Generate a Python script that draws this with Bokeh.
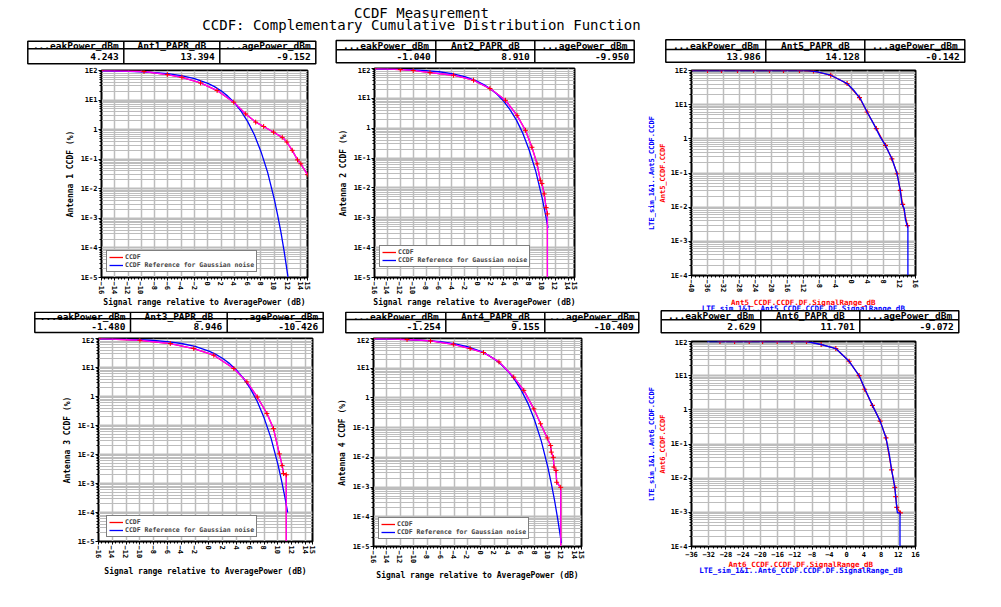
import math
from bokeh.plotting import figure
from bokeh.models import Range1d, FixedTicker, CustomJSTickFormatter, Title
from bokeh.layouts import column, row
from bokeh.embed import file_html
from bokeh.resources import INLINE
from bokeh.core.properties import value

# ---------------- data ----------------
title_lines = ["CCDF Measurement", "CCDF: Complementary Cumulative Distribution Function"]

hdr_p1 = ["...eakPower_dBm", "Ant1_PAPR_dB", "...agePower_dBm"]
val_p1 = ["4.243", "13.394", "-9.152"]
hdr_p2 = ["...eakPower_dBm", "Ant2_PAPR_dB", "...agePower_dBm"]
val_p2 = ["-1.040", "8.910", "-9.950"]
hdr_p3 = ["...eakPower_dBm", "Ant5_PAPR_dB", "...agePower_dBm"]
val_p3 = ["13.986", "14.128", "-0.142"]
hdr_p4 = ["...eakPower_dBm", "Ant3_PAPR_dB", "...agePower_dBm"]
val_p4 = ["-1.480", "8.946", "-10.426"]
hdr_p5 = ["...eakPower_dBm", "Ant4_PAPR_dB", "...agePower_dBm"]
val_p5 = ["-1.254", "9.155", "-10.409"]
hdr_p6 = ["...eakPower_dBm", "Ant6_PAPR_dB", "...agePower_dBm"]
val_p6 = ["2.629", "11.701", "-9.072"]

xlabel_std = "Signal range relative to AveragePower (dB)"
ylabel_p1 = "Antenna 1 CCDF (%)"
ylabel_p2 = "Antenna 2 CCDF (%)"
ylabel_p4 = "Antenna 3 CCDF (%)"
ylabel_p5 = "Antenna 4 CCDF (%)"
legend_meas = "CCDF"
legend_ref = "CCDF Reference for Gaussian noise"

ylab_red_p3 = "Ant5_CCDF.CCDF"
ylab_blue_p3 = "LTE_sim_1&1..Ant5_CCDF.CCDF"
xlab_red_p3 = "Ant5_CCDF.CCDF.DF.SignalRange_dB"
xlab_blue_p3 = "LTE_sim_1&1..Ant5_CCDF.CCDF.DF.SignalRange_dB"
ylab_red_p6 = "Ant6_CCDF.CCDF"
ylab_blue_p6 = "LTE_sim_1&1..Ant6_CCDF.CCDF"
xlab_red_p6 = "Ant6_CCDF.CCDF.DF.SignalRange_dB"
xlab_blue_p6 = "LTE_sim_1&1..Ant6_CCDF.CCDF.DF.SignalRange_dB"

# Gaussian reference curves (blue), read per panel
gx_p1 = [-16, -12, -10, -8, -6, -4, -2, 0, 1, 2, 3, 4, 5, 6, 7, 8, 9, 10, 10.5, 11, 11.5, 12, 12.1]
gy_p1 = [97.5, 93.9, 90.5, 85.4, 77.8, 67.2, 53.2, 36.8, 28.4, 20.5, 13.6, 8.1, 4.2, 1.87, 0.67, 0.18, 0.036, 4.5e-3, 1.3e-3, 3.4e-4, 7.3e-5, 1.3e-5, 9e-6]
gx_p2 = [-16, -12, -10, -8, -6, -4, -2, 0, 1, 2, 3, 4, 5, 6, 7, 8, 9, 10, 10.5, 10.9]
gy_p2 = [97.5, 93.9, 90.5, 85.4, 77.8, 67.2, 53.2, 36.8, 28.4, 20.5, 13.6, 8.1, 4.2, 1.87, 0.67, 0.18, 0.036, 4.5e-3, 1.3e-3, 4.6e-4]
gx_p4 = [-16, -12, -10, -8, -6, -4, -2, 0, 1, 2, 3, 4, 5, 6, 7, 8, 9, 10, 10.5, 11, 11.4]
gy_p4 = [97.5, 93.9, 90.5, 85.4, 77.8, 67.2, 53.2, 36.8, 28.4, 20.5, 13.6, 8.1, 4.2, 1.87, 0.67, 0.18, 0.036, 4.5e-3, 1.3e-3, 3.4e-4, 1.0e-4]
gx_p5 = [-16, -12, -10, -8, -6, -4, -2, 0, 1, 2, 3, 4, 5, 6, 7, 8, 9, 10, 10.5, 11, 11.5, 12]
gy_p5 = [97.5, 93.9, 90.5, 85.4, 77.8, 67.2, 53.2, 36.8, 28.4, 20.5, 13.6, 8.1, 4.2, 1.87, 0.67, 0.18, 0.036, 4.5e-3, 1.3e-3, 3.4e-4, 7.3e-5, 1.3e-5]

# Measured CCDF curves (red / magenta)
mx_p1 = [-16, -9.6, -6.1, -3.9, -1.1, 1.4, 3.9, 5.7, 7.2, 8.4, 9.9, 11.2, 11.9, 12.7, 13.5, 14.0, 15.0]
my_p1 = [100, 92.5, 73, 59, 38, 21, 8.5, 3.4, 1.8, 1.28, 0.82, 0.55, 0.38, 0.2, 0.095, 0.07, 0.03]
mx_p2 = [-16, -12, -10, -7.4, -3.75, -0.65, 1.9, 4.3, 6.1, 7.4, 8.4, 9.2, 9.7, 9.95, 10.3, 10.6, 10.8, 10.8]
my_p2 = [100, 92.5, 86, 73, 59.5, 40.5, 21.3, 8.6, 2.7, 0.85, 0.23, 0.064, 0.018, 0.014, 6.3e-3, 2.2e-3, 1.35e-3, 1e-6]
mx_p4 = [-16, -10, -5.6, -2.2, 0.7, 3.6, 5.5, 7.0, 8.4, 9.35, 10.2, 10.6, 10.8, 11.2, 11.2]
my_p4 = [100, 87, 67, 45, 26.5, 9.2, 3.2, 0.96, 0.26, 0.078, 0.0105, 4.2e-3, 2.2e-3, 2e-3, 1e-6]
mx_p5 = [-16, -11, -7.5, -4.1, -1.6, 0.4, 2.7, 4.9, 6.4, 7.9, 8.9, 9.9, 10.4, 10.5, 10.8, 10.9, 11.2, 11.3, 11.9, 11.9]
my_p5 = [100, 92.5, 83, 64, 46, 33.7, 16.3, 5.0, 1.8, 0.43, 0.135, 0.045, 0.025, 0.015, 0.010, 4.7e-3, 3.6e-3, 1.45e-3, 9.8e-4, 1e-6]

# Panel 3 (Ant5): simulated (blue) and measured markers (red)
bx_p3 = [-40, -11.0, -8.5, -5.2, -2.7, -1.1, 0.56, 2.2, 3.9, 5.5, 7.2, 8.5, 10.1, 11.4, 12.2, 12.6, 13.2, 13.45, 13.9, 14.1, 14.1]
by_p3 = [100, 100, 91, 72.8, 51.9, 41.5, 26.4, 15.1, 6.1, 2.78, 1.12, 0.64, 0.26, 0.095, 0.031, 0.0125, 8.9e-3, 4.5e-3, 2.9e-3, 2.9e-3, 1e-6]
rx_p3 = [-40, -36, -32.5, -28.5, -24.5, -20.5, -17, -13, -9.5, -5.2, -1.1, 2.0, 3.9, 6.2, 8.5, 10.1, 11.4, 12.2, 12.8, 14.0]
ry_p3 = [100, 100, 100, 100, 100, 100, 100, 100, 96, 72.8, 41.5, 16, 6.1, 2.0, 0.64, 0.26, 0.095, 0.031, 0.012, 2.9e-3]

# Panel 6 (Ant6)
bx_p6 = [-32.4, -9.3, -5.9, -2.5, 0.6, 2.9, 4.4, 6.0, 7.8, 9.15, 9.9, 10.45, 10.8, 11.2, 11.4, 11.65, 11.8, 12.4, 12.4]
by_p6 = [100, 100, 81.7, 62.3, 26.4, 10.05, 3.72, 1.35, 0.467, 0.152, 0.0516, 0.0175, 0.0102, 5.4e-3, 2.9e-3, 1.4e-3, 9.6e-4, 9.6e-4, 1e-6]
rx_p6 = [-29.4, -26.0, -22.6, -19.5, -16.1, -12.7, -9.3, -5.9, -2.5, 0.6, 2.9, 4.2, 6.0, 7.8, 9.15, 10.45, 11.2, 11.4, 11.65, 12.5]
ry_p6 = [100, 100, 100, 100, 100, 100, 100, 81.7, 62.3, 26.4, 10.05, 4.0, 1.35, 0.467, 0.152, 0.0175, 5.4e-3, 2.9e-3, 1.4e-3, 9.6e-4]

# ---------------- style ----------------
RED = "#ff0000"
BLUE = "#0000ff"
MAG = "#ff00ff"
GRID = "#bdbdbd"
MONO = "DejaVu Sans Mono"

YFMT = """
const e = Math.round(Math.log10(tick));
if (e == 0) { return "1"; }
return "1E" + e;
"""


def text_fig(W, H):
    p = figure(width=W, height=H, x_range=Range1d(0, W), y_range=Range1d(H, 0),
               x_axis_location=None, y_axis_location=None, toolbar_location=None,
               output_backend="svg", min_border=0, frame_align=False)
    p.outline_line_color = None
    p.grid.visible = False
    return p


def put_text(p, x, y, txt, color="black", size="7.5px", align="center"):
    p.text(x=[x], y=[y], text=[txt], text_align=align, text_baseline="middle",
           text_font=value(MONO), text_font_size=size, text_font_style="bold", text_color=color)


def draw_table(p, x0, x1, d1, d2, y0, ym, y1, headers, values):
    p.quad(left=[x0], right=[x1], top=[y0], bottom=[y1], fill_color="white",
           line_color="black", line_width=1.5)
    p.segment(x0=[x0, d1, d2], y0=[ym, y0, y0], x1=[x1, d1, d2], y1=[ym, y1, y1],
              line_color="black", line_width=1.5)
    cells = [(x0, d1), (d1, d2), (d2, x1)]
    p.text(x=[(a + b) / 2 for a, b in cells], y=[(y0 + ym) / 2 + 0.5] * 3, text=headers,
           text_align="center", text_baseline="middle", text_font=value(MONO),
           text_font_size="9.5px", text_font_style="bold", text_color="black")
    p.text(x=[b - 5 for a, b in cells], y=[(ym + y1) / 2 + 0.5] * 3, text=values,
           text_align="right", text_baseline="middle", text_font=value(MONO),
           text_font_size="9.5px", text_font_style="bold", text_color="black")


def table_fig(W, H, x0, x1, d1, d2, y0, ym, y1, headers, values):
    p = text_fig(W, H)
    draw_table(p, x0, x1, d1, d2, y0, ym, y1, headers, values)
    return p


def ccdf_plot(W, H, bl, br, bt, bb, x_lo, x_hi, x_major, x_minor, e_lo, e_hi, xrot=True):
    p = figure(width=W, height=H, x_range=Range1d(x_lo, x_hi),
               y_range=Range1d(10.0 ** e_lo, 10.0 ** e_hi), y_axis_type="log",
               output_backend="svg", toolbar_location=None, frame_align=False,
               min_border_left=bl, min_border_right=br, min_border_top=bt, min_border_bottom=bb)
    p.outline_line_color = "black"
    p.outline_line_width = 2
    yt = FixedTicker(ticks=[10.0 ** e for e in range(e_lo, e_hi + 1)],
                     minor_ticks=[m * 10.0 ** e for e in range(e_lo, e_hi) for m in range(2, 10)])
    xt = FixedTicker(ticks=x_major, minor_ticks=x_minor)
    p.yaxis.ticker = yt
    p.ygrid.ticker = yt
    p.xaxis.ticker = xt
    p.xgrid.ticker = xt
    p.yaxis.formatter = CustomJSTickFormatter(code=YFMT)
    for ax in (p.xaxis[0], p.yaxis[0]):
        ax.axis_line_color = "black"
        ax.axis_line_width = 1
        ax.major_tick_line_color = "black"
        ax.major_tick_out = 3
        ax.major_tick_in = 0
        ax.minor_tick_line_color = "black"
        ax.minor_tick_out = 2
        ax.minor_tick_in = 0
        ax.major_label_text_font = MONO
        ax.major_label_text_font_size = "7px"
        ax.major_label_text_font_style = "bold"
        ax.major_label_text_color = "black"
        ax.major_label_standoff = 1
        ax.axis_label_text_font = MONO
        ax.axis_label_text_font_size = "8px"
        ax.axis_label_text_font_style = "bold"
        ax.axis_label_text_color = "black"
        ax.axis_label_standoff = 1
    if xrot:
        p.xaxis.major_label_orientation = -math.pi / 2
    p.ygrid.grid_line_color = GRID
    p.ygrid.grid_line_width = 2
    p.ygrid.minor_grid_line_color = GRID
    p.ygrid.minor_grid_line_width = 1
    p.xgrid.grid_line_color = GRID
    p.xgrid.grid_line_width = 1.5
    return p


def std_panel(W, H, bl, br, bt, bb, gx, gy, mx, my, ylabel, leg_loc, xstand):
    xmaj = list(range(-16, 15, 2)) + [15]
    xmin = [-16 + 0.5 * i for i in range(63)]
    p = ccdf_plot(W, H, bl, br, bt, bb, -16, 15, xmaj, xmin, -5, 2)
    p.line(mx, my, line_color=RED, line_width=1.3, legend_label=legend_meas)
    p.line(gx, gy, line_color=BLUE, line_width=1.3, legend_label=legend_ref)
    p.line(mx, my, line_color=MAG, line_width=1.3)
    p.scatter(mx, my, marker="cross", size=5, line_color=RED, line_width=1)
    p.xaxis.axis_label = xlabel_std
    p.xaxis.axis_label_standoff = xstand
    p.yaxis.axis_label = ylabel
    p.yaxis.axis_label_standoff = 3
    lg = p.legend[0]
    lg.location = leg_loc
    lg.margin = 0
    lg.padding = 2
    lg.spacing = 0
    lg.border_line_color = "black"
    lg.border_line_width = 1.5
    lg.background_fill_color = "white"
    lg.background_fill_alpha = 1
    lg.label_text_font = MONO
    lg.label_text_font_size = "6.5px"
    lg.label_text_font_style = "bold"
    lg.label_height = 6
    lg.glyph_height = 6
    lg.glyph_width = 14
    lg.label_standoff = 2
    return p


def sim_panel(W, H, bl, br, bt, bb, x_lo, x_hi, step, bx, by, rx, ry,
              ylab_r, ylab_b, e_lo, xrot):
    xmaj = list(range(x_lo, x_hi + 1, step))
    xmin = list(range(x_lo, x_hi + 1, 1))
    p = ccdf_plot(W, H, bl, br, bt, bb, x_lo, x_hi, xmaj, xmin, e_lo, 2, xrot=xrot)
    p.line(rx, ry, line_color=RED, line_width=1.2)
    p.scatter(rx, ry, marker="cross", size=5, line_color=RED, line_width=1.2)
    p.line(bx, by, line_color=BLUE, line_width=1.3)
    p.yaxis.axis_label = ylab_r
    p.yaxis.axis_label_text_color = RED
    p.yaxis.axis_label_text_font_size = "7px"
    p.yaxis.axis_label_standoff = 1
    p.add_layout(Title(text=ylab_b, text_color=BLUE, text_font=MONO, text_font_size="7px",
                       text_font_style="bold", align="center", standoff=0, offset=0), "left")
    return p


# ---------------- layout ----------------
tf = text_fig(992, 36)
tf.text(x=[421, 421], y=[12, 24], text=title_lines, text_align="center", text_baseline="middle",
        text_font=value(MONO), text_font_size="14px", text_color="black")

# column A (panels 1 and 4), x 0-330
t1 = table_fig(330, 30, 27.3, 315.3, 123.3, 219.3, 4.7, 12.3, 27.3, hdr_p1, val_p1)
p1 = std_panel(330, 245, 101, 23, 4, 34, gx_p1, gy_p1, mx_p1, my_p1, ylabel_p1, (5, 5), 1)
t4 = table_fig(330, 25, 34.3, 322.7, 130, 226.7, 0.8, 7.3, 21, hdr_p4, val_p4)
p4 = std_panel(330, 262, 98, 18, 2, 57, gx_p4, gy_p4, mx_p4, my_p4, ylabel_p4, (8, 4), 6)

# column B (panels 2 and 5), x 330-645
t2 = table_fig(315, 30, 5.7, 303.7, 105.3, 204.3, 4, 13.3, 26.3, hdr_p2, val_p2)
p2 = std_panel(315, 245, 44, 71, 2, 34, gx_p2, gy_p2, mx_p2, my_p2, ylabel_p2, (5, 10), 1)
t5 = table_fig(315, 25, 15.3, 308.3, 115.3, 214.3, 0.8, 8, 21.3, hdr_p5, val_p5)
p5 = std_panel(315, 262, 43, 64, 2, 52, gx_p5, gy_p5, mx_p5, my_p5, ylabel_p5, (5, 7), 5)

# column C (panels 3 and 6), x 645-992
t3 = table_fig(347, 30, 20.3, 319.3, 120.3, 219.3, 3.3, 13, 25.7, hdr_p3, val_p3)
p3 = sim_panel(347, 233, 45, 77, 4, 24, -40, 16, 4, bx_p3, by_p3, rx_p3, ry_p3,
               ylab_red_p3, ylab_blue_p3, -4, True)
t6 = text_fig(347, 39)
put_text(t6, 157.8, 3, xlab_red_p3, color=RED)
put_text(t6, 157.8, 9, xlab_blue_p3, color=BLUE)
draw_table(t6, 15.7, 313.3, 115.3, 214.3, 11.3, 20.3, 33.3, hdr_p6, val_p6)
p6 = sim_panel(347, 223, 40, 77, 3, 15, -36, 16, 4, bx_p6, by_p6, rx_p6, ry_p6,
               ylab_red_p6, ylab_blue_p6, -4, False)
t7 = text_fig(347, 37)
put_text(t7, 155.3, 3, xlab_red_p6, color=RED)
put_text(t7, 155.3, 8.5, xlab_blue_p6, color=BLUE)

colA = column(t1, p1, t4, p4)
colB = column(t2, p2, t5, p5)
colC = column(t3, p3, t6, p6, t7)
layout = column(tf, row(colA, colB, colC))

open("out.html", "w").write(file_html(layout, INLINE))
